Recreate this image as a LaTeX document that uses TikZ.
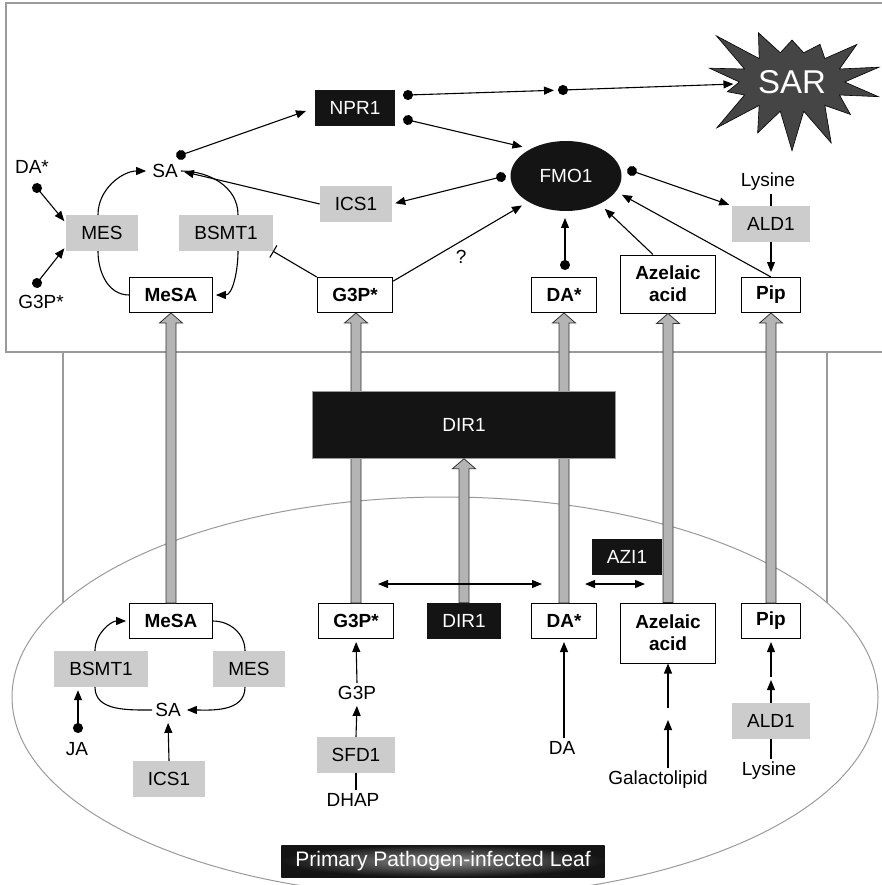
\documentclass[tikz,border=0pt]{standalone}
\usepackage{fontspec}
\setmainfont{Liberation Sans}
\usepackage{tikz}
\usetikzlibrary{arrows.meta,positioning,calc,shapes.geometric,shapes.symbols}
\usepackage{xcolor}
\definecolor{enzymegray}{HTML}{CCCCCC}
\definecolor{tubegray}{HTML}{B4B4B4}
\definecolor{framegray}{HTML}{9A9A9A}
\definecolor{proteinblack}{HTML}{141414}
\definecolor{sargray}{HTML}{454545}
\newcommand{\labelsize}{\fontsize{19}{22}\selectfont}
\tikzset{
  metabox/.style={
    draw=black,
    fill=white,
    line width=1pt,
    inner xsep=15pt,
    minimum height=35pt,
    align=center,
    font=\labelsize\bfseries
  },
  enzymebox/.style={
    fill=enzymegray,
    inner xsep=15pt,
    minimum height=36pt,
    font=\labelsize
  },
  proteinbox/.style={
    fill=proteinblack,
    text=white,
    inner xsep=15pt,
    minimum height=36pt,
    font=\labelsize
  },
  chem/.style={inner sep=3pt, font=\labelsize},
  arrow/.style={-{Triangle[length=10pt,width=8pt]}, line width=1.1pt, shorten >=3pt},
  dotarrow/.style={{Circle[length=10pt]}-{Triangle[length=10pt,width=8pt]}, line width=1.1pt, shorten <=-5pt, shorten >=3pt},
  twoway/.style={{Triangle[length=10pt,width=8pt]}-{Triangle[length=10pt,width=8pt]}, line width=1.1pt},
  link/.style={line width=1.1pt},
  inhibit/.style={-{Bar[width=14pt]}, line width=1.1pt},
  tube/.style={draw=black!80, fill=tubegray, line width=0.8pt},
  frameline/.style={draw=framegray, line width=1.2pt}
}
\newcommand{\tubearrow}[2]{%
  \path[tube] let \p1=(#1), \p2=(#2) in
    (\x1-5pt,\y1) -- (\x1-5pt,\y2-10pt) -- (\x1-11.5pt,\y2-10pt) -- (\x1,\y2)
    -- (\x1+11.5pt,\y2-10pt) -- (\x1+5pt,\y2-10pt) -- (\x1+5pt,\y1) -- cycle;}

\begin{document}
\begin{tikzpicture}[x=1pt, y=-1pt]
\useasboundingbox (0,0) rectangle (881,885);
% systemic leaf and infected leaf
\draw[frameline] (6,3) rectangle (900,352);
\draw[frameline] (63,352) -- (63,603);
\draw[frameline] (827,352) -- (827,603);
\draw[frameline, line width=1pt] (445,697) ellipse [x radius=433pt, y radius=200pt];

% systemic leaf
\node[proteinbox] (npr) at (355,108) {NPR1};
\node[ellipse, fill=proteinblack, text=white, minimum width=111pt, minimum height=70pt, inner sep=0pt, outer sep=4pt, font=\labelsize] (fmo) at (566,176) {FMO1};
\node[starburst, fill=sargray, draw=black, line width=0.6pt, text=white, font=\fontsize{33}{36}\selectfont, minimum width=180pt, minimum height=152pt, starburst points=14, starburst point height=46pt, random starburst=23] (sar) at (792,82) {SAR};
\node[chem] (sa) at (165,171) {SA};
\node[chem] (daL) at (32,167) {DA*};
\node[chem] (g3pL) at (41,302) {G3P*};
\node[enzymebox] (mes) at (102,233) {MES};
\node[enzymebox] (bsmt) at (226,233) {BSMT1};
\node[enzymebox] (ics) at (356,204) {ICS1};
\node[chem] (lys) at (768,182) {Lysine};
\node[enzymebox] (ald) at (771,224) {ALD1};
\node[metabox] (mesaT) at (171,295) {MeSA};
\node[metabox] (g3pT) at (355,295) {G3P*};
\node[metabox] (daT) at (564,295) {DA*};
\node[metabox, minimum height=58pt] (azT) at (668,284) {Azelaic\\acid};
\node[metabox] (pipT) at (771,295) {Pip};

% infected leaf
\node[metabox] (mesaB) at (171,621) {MeSA};
\node[metabox] (g3pB) at (356,621) {G3P*};
\node[proteinbox] (dirS) at (464,621) {DIR1};
\node[metabox] (daB) at (564,621) {DA*};
\node[metabox, minimum height=60pt] (azB) at (668,633) {Azelaic\\acid};
\node[metabox] (pipB) at (771,621) {Pip};
\node[proteinbox] (azi) at (627,557) {AZI1};
\node[enzymebox] (bsmtB) at (101,669) {BSMT1};
\node[enzymebox] (mesB) at (249,669) {MES};
\node[chem] (saB) at (168,710) {SA};
\node[chem] (ja) at (77,749) {JA};
\node[enzymebox] (icsB) at (169,779) {ICS1};
\node[chem] (g3p) at (357,693) {G3P};
\node[enzymebox] (sfd) at (356,755) {SFD1};
\node[chem] (dhap) at (353,800) {DHAP};
\node[chem] (da) at (562,748) {DA};
\node[chem] (gal) at (658,780) {Galactolipid};
\node[enzymebox] (aldB) at (771,721) {ALD1};
\node[chem] (lysB) at (769,771) {Lysine};
\node[inner color=black!45, outer color=black!92, text=white, inner xsep=14pt, minimum height=32pt, font=\fontsize{21}{24}\selectfont] (leaf) at (443,861) {Primary Pathogen-infected Leaf};

% long distance signals
\tubearrow{mesaB.north}{mesaT.south}
\tubearrow{g3pB.north}{g3pT.south}
\tubearrow{daB.north}{daT.south}
\tubearrow{azB.north}{azT.south}
\tubearrow{pipB.north}{pipT.south}
\node[proteinbox, draw=black!40, minimum width=303pt, minimum height=67pt] (dirBig) at (464,425) {DIR1};
\tubearrow{dirS.north}{dirBig.south}

% connectors, systemic leaf
\coordinate (sadot) at (181,155);
\coordinate (nprdotA) at (408,95);
\coordinate (nprdotB) at (408,120);
\coordinate (relay) at (563,90);
\coordinate (fmodotL) at (501,177);
\coordinate (fmodotR) at (632,171);
\coordinate (dadot) at (565,265);
\coordinate (dadotL) at (37,188);
\coordinate (g3pdotL) at (37,283);
\draw[dotarrow, shorten >=9pt] (sadot) -- (npr.west);
\draw[dotarrow, shorten >=9pt] (nprdotA) -- (relay);
\draw[dotarrow] (relay) -- (sar);
\draw[dotarrow] (nprdotB) -- (fmo.145);
\draw[dotarrow] (fmodotL) -- (ics.east);
\draw[arrow] (ics.west) -- (sa.east);
\draw[dotarrow] (fmodotR) -- (ald.north west);
\draw[link] (ald.north |- lys.south) -- (ald.north);
\draw[arrow, shorten >=5pt] (ald.south) -- (pipT.north);
\draw[arrow] (pipT.north) -- (fmo.-18);
\draw[arrow] (azT.117) -- (fmo.-40);
\draw[dotarrow] (dadot) -- (dadot |- fmo.south);
\draw[arrow] (g3pT.20) -- node[chem, pos=0.45, below right=0pt] {?} (fmo.214);
\draw[inhibit] (g3pT.north west) -- (bsmt.south east);
\draw[dotarrow] (dadotL) -- (mes.165);
\draw[dotarrow] (g3pdotL) -- (mes.200);
\draw[arrow] ([xshift=-4pt]mes.north) to[out=90, in=180] (sa.west);
\draw[link] (sa.east) to[out=0, in=90] ([xshift=12pt]bsmt.north);
\draw[arrow] ([xshift=12pt]bsmt.south) to[out=-90, in=0] (mesaT.east);
\draw[link] (mesaT.west) to[out=180, in=-90] ([xshift=-4pt]mes.south);

% connectors, infected leaf
\coordinate (dirL) at (378,584);
\coordinate (dirR) at (542,584);
\coordinate (aziL) at (585,584);
\coordinate (aziR) at (645,584);
\coordinate (azgap) at (668,714);
\coordinate (pipstep) at (771,677);
\coordinate (jadot) at (78,728);
\draw[twoway] (dirL) -- (dirR);
\draw[twoway] (aziL) -- (aziR);
\draw[arrow] (g3p.north) -- (g3pB.south);
\draw[arrow] (sfd.north) -- (g3p.south);
\draw[link] (sfd.south |- dhap.north) -- (sfd.south);
\draw[arrow] (daB.south |- da.north) -- (daB.south);
\draw[arrow, shorten >=6pt] (azgap |- gal.north) -- (azgap);
\draw[arrow, shorten <=6pt, shorten >=0pt] (azgap) -- (azB.south);
\draw[arrow] (aldB.north) -- (pipstep);
\draw[arrow] (pipstep) -- (pipB.south);
\draw[link] (aldB.south |- lysB.north) -- (aldB.south);
\draw[arrow] (icsB.north) -- (saB.south);
\draw[dotarrow] (jadot) -- (jadot |- bsmtB.south);
\draw[arrow] ([xshift=-6pt]bsmtB.north) to[out=90, in=180] (mesaB.west);
\draw[link] (saB.west) to[out=180, in=-90] ([xshift=-6pt]bsmtB.south);
\draw[link] (mesaB.east) to[out=0, in=90] ([xshift=-4pt]mesB.north);
\draw[arrow] ([xshift=-4pt]mesB.south) to[out=-90, in=0] (saB.east);
\end{tikzpicture}
\end{document}
